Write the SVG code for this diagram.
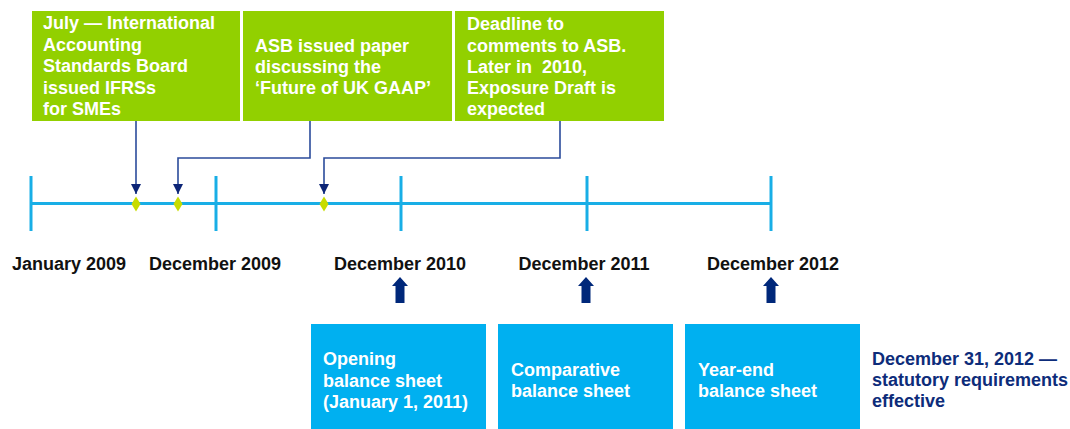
<svg xmlns="http://www.w3.org/2000/svg" width="1070" height="429" viewBox="0 0 1070 429">
<defs>
<style>
.g{fill:#92D000}
.b{fill:#00B0F0}
.wt{fill:#FFFFFF;font-family:"Liberation Sans",Arial,sans-serif;font-weight:bold;font-size:18px}
.dt{fill:#111111;font-family:"Liberation Sans",Arial,sans-serif;font-weight:bold;font-size:18px}
.nt{fill:#0D2C7A;font-family:"Liberation Sans",Arial,sans-serif;font-weight:bold;font-size:18px}
.tl{stroke:#18AEE6;stroke-width:3;fill:none}
.dm{fill:#C8DC00}
.cn{stroke:#2B4B9B;stroke-width:1.6;fill:none}
.up{fill:#00287A}
</style>
<marker id="ah2" viewBox="0 0 10 10" refX="10" refY="5" markerWidth="10" markerHeight="10" orient="auto" markerUnits="userSpaceOnUse">
<path d="M0,0 L10,5 L0,10 Z" fill="#0C2577"/>
</marker>
</defs>

<g id="event-ifrs-smes">
<rect class="g" x="32" y="11" width="208" height="110"/>
<text class="wt" x="43" y="29">July — International</text>
<text class="wt" x="43" y="51">Accounting</text>
<text class="wt" x="43" y="72">Standards Board</text>
<text class="wt" x="43" y="94">issued IFRSs</text>
<text class="wt" x="43" y="115">for SMEs</text>
</g>

<g id="event-asb-paper">
<rect class="g" x="243" y="11" width="209" height="110"/>
<text class="wt" x="255" y="52">ASB issued paper</text>
<text class="wt" x="255" y="73">discussing the</text>
<text class="wt" x="255" y="94">‘Future of UK GAAP’</text>
</g>

<g id="event-deadline">
<rect class="g" x="455" y="11" width="209" height="110"/>
<text class="wt" x="467" y="30">Deadline to</text>
<text class="wt" x="467" y="52">comments to ASB.</text>
<text class="wt" x="467" y="73" xml:space="preserve">Later in  2010,</text>
<text class="wt" x="467" y="94">Exposure Draft is</text>
<text class="wt" x="467" y="115">expected</text>
</g>

<g id="timeline">
<line class="tl" x1="31" y1="203.5" x2="771" y2="203.5"/>
<line class="tl" x1="31" y1="176" x2="31" y2="231"/>
<line class="tl" x1="216" y1="176" x2="216" y2="231"/>
<line class="tl" x1="401" y1="176" x2="401" y2="231"/>
<line class="tl" x1="587" y1="176" x2="587" y2="231"/>
<line class="tl" x1="771" y1="176" x2="771" y2="231"/>
<path class="dm" d="M136,196.5 L140.5,204 L136,211.5 L131.5,204 Z"/>
<path class="dm" d="M178,196.5 L182.5,204 L178,211.5 L173.5,204 Z"/>
<path class="dm" d="M324,196.5 L328.5,204 L324,211.5 L319.5,204 Z"/>
</g>

<g id="connectors">
<path class="cn" d="M136,121 L136,194" marker-end="url(#ah2)"/>
<path class="cn" d="M310,121 L310,158 L178,158 L178,194" marker-end="url(#ah2)"/>
<path class="cn" d="M560,121 L560,158 L324,158 L324,194" marker-end="url(#ah2)"/>
</g>

<g id="date-labels">
<text class="dt" x="12" y="270">January 2009</text>
<text class="dt" x="215" y="270" text-anchor="middle">December 2009</text>
<text class="dt" x="400" y="270" text-anchor="middle">December 2010</text>
<text class="dt" x="584" y="270" text-anchor="middle">December 2011</text>
<text class="dt" x="773" y="270" text-anchor="middle">December 2012</text>
</g>

<g id="up-arrows">
<path class="up" d="M400,277 L408,286 L404.5,286 L404.5,303 L395.5,303 L395.5,286 L392,286 Z"/>
<path class="up" d="M586,277 L594,286 L590.5,286 L590.5,303 L581.5,303 L581.5,286 L578,286 Z"/>
<path class="up" d="M771,277 L779,286 L775.5,286 L775.5,303 L766.5,303 L766.5,286 L763,286 Z"/>
</g>

<g id="opening-balance-sheet">
<rect class="b" x="311" y="324" width="175" height="105"/>
<text class="wt" x="323" y="365">Opening</text>
<text class="wt" x="323" y="387">balance sheet</text>
<text class="wt" x="323" y="408">(January 1, 2011)</text>
</g>

<g id="comparative-balance-sheet">
<rect class="b" x="498" y="324" width="175" height="105"/>
<text class="wt" x="511" y="376">Comparative</text>
<text class="wt" x="511" y="397">balance sheet</text>
</g>

<g id="year-end-balance-sheet">
<rect class="b" x="685" y="324" width="175" height="105"/>
<text class="wt" x="698" y="376">Year-end</text>
<text class="wt" x="698" y="397">balance sheet</text>
</g>

<g id="statutory-note">
<text class="nt" x="872" y="365">December 31, 2012 —</text>
<text class="nt" x="872" y="386">statutory requirements</text>
<text class="nt" x="872" y="407">effective</text>
</g>
</svg>
